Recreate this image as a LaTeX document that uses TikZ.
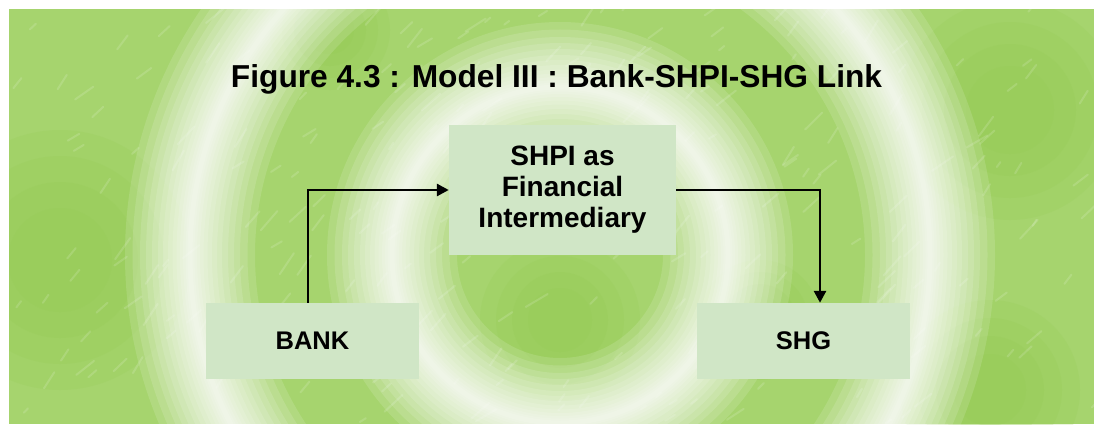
\documentclass[tikz,border=0pt]{standalone}
\usepackage{fontspec}
\setmainfont{Liberation Sans}
\usetikzlibrary{arrows.meta}
\definecolor{bgbase}{HTML}{A6D46E}
\definecolor{bgdark}{HTML}{92C950}
\definecolor{boxfill}{HTML}{D0E6C6}
\tikzset{
  stagebox/.style={fill=boxfill, draw=none, inner sep=0pt, align=center, text=black},
  link/.style={line width=2.8pt, draw=black, -{Triangle[length=12pt,width=12pt]}},
}
\begin{document}
\begin{tikzpicture}[x=1pt,y=-1pt]
\useasboundingbox (0,0) rectangle (1094,424);
\fill[white] (0,0) rectangle (1094,424);
\begin{scope}
\clip (9,9) rectangle (1094,424);
\fill[bgbase] (9,9) rectangle (1094,424);
% darker soft patches
\foreach \cx/\cy/\r in {60/260/130, 1010/110/110, 990/390/90, 560/320/80, 330/30/60, 760/320/60}{
  \foreach \k in {1,0.8,0.6,0.4}{
    \fill[bgdark, opacity=0.18] (\cx,\cy) circle (\k*\r);
  }
}
% texture streaks
\pgfmathsetseed{7}
\foreach \i in {1,...,260}{
  \pgfmathsetmacro{\px}{9+1085*rnd}
  \pgfmathsetmacro{\py}{9+415*rnd}
  \pgfmathsetmacro{\ln}{6+20*rnd}
  \pgfmathsetmacro{\an}{-30-30*rnd}
  \draw[white, opacity=0.14, line width=2pt, line cap=round] (\px,\py) -- ++(\an:\ln);
}
% soft white rings
\foreach \w in {130,115,100,88,76,64,54,44,35,27,20,14,9,5}{
  \draw[white, opacity=0.13, line width=\w pt] (560,255) circle (168);
  \draw[white, opacity=0.13, line width=\w pt] (560,255) circle (370);
}
\end{scope}

\node[font=\bfseries\fontsize{31.7}{36}\selectfont, anchor=base] (title) at (556.5,87)
  {Figure 4.3 : Model III : Bank-SHPI-SHG Link};

\node[stagebox, minimum width=213pt, minimum height=76pt,
      font=\bfseries\fontsize{25.5}{30}\selectfont] (bank) at (312.5,341) {BANK};
\node[stagebox, minimum width=227pt, minimum height=130pt,
      font=\bfseries\fontsize{28}{31}\selectfont] (shpi) at (562.5,190)
  {SHPI as\\Financial\\Intermediary};
\node[stagebox, minimum width=213pt, minimum height=76pt,
      font=\bfseries\fontsize{25.5}{30}\selectfont] (shg) at (803.5,341) {SHG};

\draw[link] ([xshift=-4.5pt]bank.north) |- (shpi.west);
\draw[link] (shpi.east) -| ([xshift=16.5pt]shg.north);
\end{tikzpicture}
\end{document}
